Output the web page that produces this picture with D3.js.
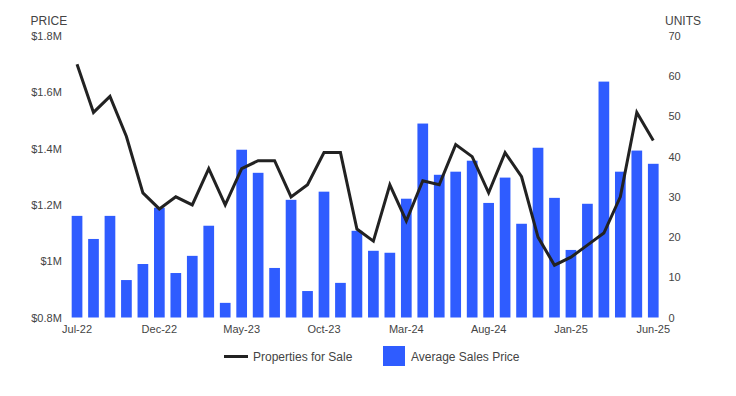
<!DOCTYPE html>
<html>
<head>
<meta charset="utf-8">
<script src="https://cdn.jsdelivr.net/npm/d3@7"></script>
<style>
  body { margin: 0; background: #fff; }
  svg text { font-family: "Liberation Sans", Arial, sans-serif; fill: #444; }
</style>
</head>
<body>
<script>
let months = ['Jul-22','Aug-22','Sep-22','Oct-22','Nov-22','Dec-22','Jan-23','Feb-23','Mar-23','Apr-23','May-23','Jun-23',
  'Jul-23','Aug-23','Sep-23','Oct-23','Nov-23','Dec-23','Jan-24','Feb-24','Mar-24','Apr-24','May-24','Jun-24',
  'Jul-24','Aug-24','Sep-24','Oct-24','Nov-24','Dec-24','Jan-25','Feb-25','Mar-25','Apr-25','May-25','Jun-25'];

// average sales price, $M
let avgPrice = [1.161, 1.079, 1.161, 0.933, 0.990, 1.190, 0.958, 1.019, 1.126, 0.852, 1.396, 1.314,
  0.976, 1.218, 0.894, 1.247, 0.923, 1.108, 1.037, 1.030, 1.222, 1.489, 1.307, 1.318,
  1.357, 1.207, 1.297, 1.133, 1.403, 1.225, 1.040, 1.204, 1.638, 1.318, 1.393, 1.346];

// properties for sale, units
let forSale = [63, 51, 55, 45, 31, 27, 30, 28, 37, 28, 37, 39,
  39, 30, 33, 41, 41, 22, 19, 33, 24, 34, 33, 43,
  40, 31, 41, 35, 20, 13, 15, 18, 21, 30, 51, 44];

let priceTicks = [0.8, 1.0, 1.2, 1.4, 1.6, 1.8];
let unitTicks = [0, 10, 20, 30, 40, 50, 60, 70];
let monthTicks = ['Jul-22','Dec-22','May-23','Oct-23','Mar-24','Aug-24','Jan-25','Jun-25'];

let width = 736, height = 396;
let plot = { left: 68.8, right: 661.5, top: 36, bottom: 317.5 };

let svg = d3.select('body').append('svg')
    .attr('width', width)
    .attr('height', height);

let x = d3.scaleBand().domain(months)
    .range([plot.left, plot.right])
    .paddingInner(0.35)
    .paddingOuter(0.175);

let yPrice = d3.scaleLinear().domain([0.8, 1.8]).range([plot.bottom, plot.top]);
let yUnits = d3.scaleLinear().domain([0, 70]).range([plot.bottom, plot.top]);

// bars
svg.append('g').selectAll('rect')
    .data(avgPrice)
  .enter().append('rect')
    .attr('x', function(d, i){ return x(months[i]); })
    .attr('y', function(d){ return yPrice(d); })
    .attr('width', x.bandwidth())
    .attr('height', function(d){ return plot.bottom - yPrice(d); })
    .attr('fill', '#2f5cff');

// line
let line = d3.line()
  .x(function(d, i){ return x(months[i]) + x.bandwidth() / 2; })
  .y(function(d){ return yUnits(d); });

svg.append('path')
    .datum(forSale)
    .attr('d', line)
    .attr('fill', 'none')
    .attr('stroke', '#222')
    .attr('stroke-width', 3)
    .attr('stroke-linejoin', 'miter');

// axes
let leftAxis = d3.axisLeft(yPrice).tickValues(priceTicks).tickSize(0).tickPadding(7)
  .tickFormat(function(d){ return '$' + d3.format('~g')(+d.toFixed(1)) + 'M'; });
let rightAxis = d3.axisRight(yUnits).tickValues(unitTicks).tickSize(0).tickPadding(7);
let bottomAxis = d3.axisBottom(x).tickValues(monthTicks).tickSize(0).tickPadding(8);

function styleAxis(g) {
  g.select('.domain').remove();
  g.selectAll('text').style('font-size', '11px').attr('fill', '#444');
}

svg.append('g').attr('transform', 'translate(' + plot.left + ',0)').call(leftAxis).call(styleAxis);
svg.append('g').attr('transform', 'translate(' + plot.right + ',0)').call(rightAxis).call(styleAxis);
svg.append('g').attr('transform', 'translate(0,' + plot.bottom + ')').call(bottomAxis).call(styleAxis);

// axis titles
svg.append('text').attr('x', 30.5).attr('y', 25).style('font-size', '12px').text('PRICE');
svg.append('text').attr('x', 665).attr('y', 25).style('font-size', '12px').text('UNITS');

// legend
let legend = svg.append('g').style('font-size', '12px');
legend.append('line')
    .attr('x1', 224).attr('x2', 248).attr('y1', 356.5).attr('y2', 356.5)
    .attr('stroke', '#222').attr('stroke-width', 3);
legend.append('text').attr('x', 253).attr('y', 360.5).text('Properties for Sale');
legend.append('rect')
    .attr('x', 383).attr('y', 346).attr('width', 22).attr('height', 20)
    .attr('fill', '#2f5cff');
legend.append('text').attr('x', 411).attr('y', 360.5).text('Average Sales Price');
</script>
</body>
</html>
